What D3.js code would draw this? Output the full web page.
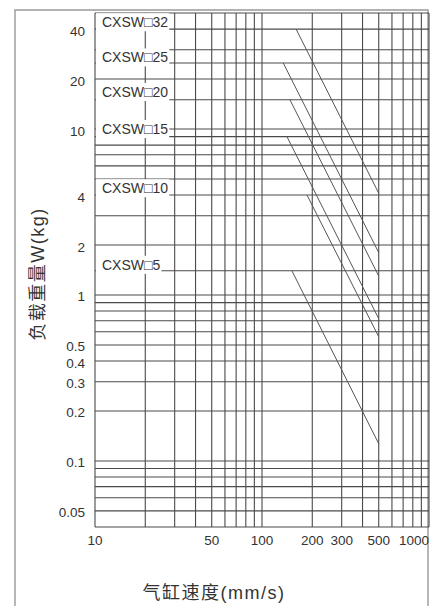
<!DOCTYPE html>
<html>
<head>
<meta charset="utf-8">
<script src="https://cdn.jsdelivr.net/npm/d3@7"></script>
<style>
  body { margin: 0; background: #fff; }
  text { font-family: "Liberation Sans", Arial, "Noto Sans CJK SC", sans-serif; fill: #333; }
</style>
</head>
<body>
<svg id="chart" width="435" height="606"></svg>
<script>
// Allowable load vs cylinder speed (log-log)

var xGrid = [10, 20, 30, 40, 50, 60, 70, 80, 90, 100, 200, 300, 400, 500, 600, 700, 800, 900, 1000]
var xTicks = [10, 50, 100, 200, 300, 500, 1000]

var yGrid = [50, 40, 30, 25, 20, 15, 10, 9, 8, 7, 6, 5, 4, 3, 2, 1.4, 1,
  0.9, 0.8, 0.7, 0.6, 0.5, 0.4, 0.3, 0.2, 0.1, 0.09, 0.08, 0.07, 0.06, 0.05, 0.04]
var yTicks = [40, 20, 10, 4, 2, 1, 0.5, 0.4, 0.3, 0.2, 0.1, 0.05]

var models = ["CXSW\u25A132", "CXSW\u25A125", "CXSW\u25A120", "CXSW\u25A115", "CXSW\u25A110", "CXSW\u25A15"]
var labelLoad = [44, 27, 16.7, 10, 4.4, 1.52]

// each model: one straight segment, start -> end
var startSpeed = [160, 134, 147, 141, 186, 151]
var startLoad = [40, 25, 15, 9, 4, 1.4]
var endSpeed = [500, 500, 500, 500, 500, 500]
var endLoad = [4.1, 1.8, 1.3, 0.72, 0.56, 0.127]

var margin = { left: 95, top: 13 }
var width = 334, height = 514

var svg = d3.select("#chart")

// outer frame of the scanned sheet
svg.append("path")
  .attr("d", "M15,606 L15,10 L428,10 L428,606")
  .attr("fill", "none")
  .attr("stroke", "#999")
  .attr("stroke-width", 1.4)

var chart = svg.append("g")
  .attr("transform", "translate(" + margin.left + "," + margin.top + ")")

var x = d3.scaleLog().domain([10, 1000]).range([0, width])
var y = d3.scaleLog().domain([0.04, 50]).range([height, 0])

// grid
chart.append("g").selectAll("line")
  .data(xGrid)
  .enter()
  .append("line")
  .attr("x1", function (d) { return x(d) })
  .attr("x2", function (d) { return x(d) })
  .attr("y1", 0)
  .attr("y2", height)
  .attr("stroke", "#4a4a4a")
  .attr("stroke-width", 1.1)

chart.append("g").selectAll("line")
  .data(yGrid)
  .enter()
  .append("line")
  .attr("x1", 0)
  .attr("x2", width)
  .attr("y1", function (d) { return y(d) })
  .attr("y2", function (d) { return y(d) })
  .attr("stroke", "#4a4a4a")
  .attr("stroke-width", 1.1)

// model lines
chart.append("g").selectAll("line")
  .data(models)
  .enter()
  .append("line")
  .attr("x1", function (d, i) { return x(startSpeed[i]) })
  .attr("y1", function (d, i) { return y(startLoad[i]) })
  .attr("x2", function (d, i) { return x(endSpeed[i]) })
  .attr("y2", function (d, i) { return y(endLoad[i]) })
  .attr("stroke", "#555")
  .attr("stroke-width", 1)

// model labels, white box behind like the original
var labels = chart.append("g").selectAll("g")
  .data(models)
  .enter()
  .append("g")

labels.append("rect").attr("fill", "#fff")

labels.append("text")
  .attr("x", 7)
  .attr("y", function (d, i) { return y(labelLoad[i]) })
  .attr("dominant-baseline", "central")
  .style("font-size", "14px")
  .text(function (d) { return d })

labels.each(function () {
  var g = d3.select(this)
  var b = g.select("text").node().getBBox()
  g.select("rect")
    .attr("x", 1)
    .attr("y", b.y - 1)
    .attr("width", b.x + b.width)
    .attr("height", b.height + 2)
})

// tick labels
chart.append("g").selectAll("text")
  .data(yTicks)
  .enter()
  .append("text")
  .attr("x", -10)
  .attr("y", function (d) { return y(d) + 2 })
  .attr("text-anchor", "end")
  .attr("dominant-baseline", "central")
  .style("font-size", "13.5px")
  .text(function (d) { return d })

chart.append("g").selectAll("text")
  .data(xTicks)
  .enter()
  .append("text")
  .attr("x", function (d) { return x(d) })
  .attr("y", height + 18)
  .attr("text-anchor", function (d) { return d == 1000 ? "end" : "middle" })
  .style("font-size", "13.5px")
  .text(function (d) { return d })

// axis titles
svg.append("text")
  .attr("transform", "translate(44,274) rotate(-90)")
  .attr("text-anchor", "middle")
  .style("font-size", "18px")
  .style("letter-spacing", "1.5px")
  .text("负载重量W(kg)")

svg.append("text")
  .attr("x", 214)
  .attr("y", 599)
  .attr("text-anchor", "middle")
  .style("font-size", "18px")
  .style("letter-spacing", "1.5px")
  .text("气缸速度(mm/s)")
</script>
</body>
</html>
